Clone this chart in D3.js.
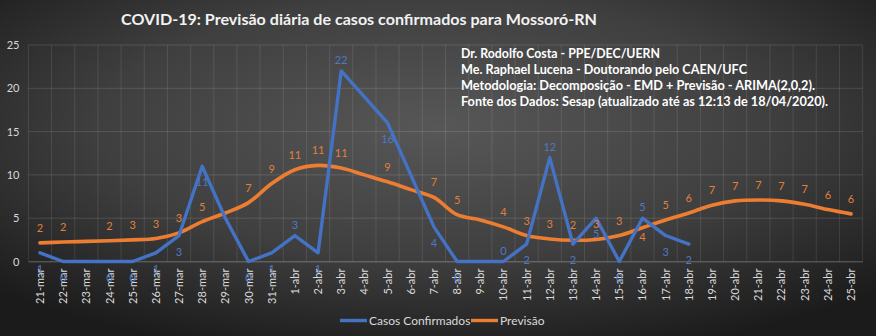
<!DOCTYPE html>
<html>
<head>
<meta charset="utf-8">
<script src="https://cdn.jsdelivr.net/npm/d3@7"></script>
<style>
html,body{margin:0;padding:0;background:#2a2a2a;}
svg{display:block;}
</style>
</head>
<body>
<svg id="chart" width="876" height="336"></svg>
<script>
// ---- data ----
const categories = ["21-mar","22-mar","23-mar","24-mar","25-mar","26-mar","27-mar","28-mar","29-mar","30-mar","31-mar",
  "1-abr","2-abr","3-abr","4-abr","5-abr","6-abr","7-abr","8-abr","9-abr","10-abr","11-abr","12-abr","13-abr","14-abr",
  "15-abr","16-abr","17-abr","18-abr","19-abr","20-abr","21-abr","22-abr","23-abr","24-abr","25-abr"];
const casosConfirmados = [1,0,0,0,0,1,3,11,5,0,1,3,1,22,19,16,10,4,0,0,0,2,12,2,5,0,5,3,2];
const previsao = [2.15,2.25,2.32,2.4,2.5,2.65,3.3,4.6,5.6,6.8,9.0,10.6,11.1,10.8,10.0,9.2,8.3,7.4,5.4,4.8,4.0,3.0,2.6,2.45,2.55,3.0,3.9,4.8,5.6,6.5,7.0,7.1,7.0,6.6,6.0,5.5];
const yTicks = [0,5,10,15,20,25];
const seriesNames = ["Casos Confirmados","Previsão"];
const titleText = "COVID-19: Previsão diária de casos confirmados para Mossoró-RN";
const noteLines = ["Dr. Rodolfo Costa - PPE/DEC/UERN",
  "Me. Raphael Lucena - Doutorando pelo CAEN/UFC",
  "Metodologia: Decomposição - EMD + Previsão - ARIMA(2,0,2).",
  "Fonte dos Dados: Sesap (atualizado até as 12:13 de 18/04/2020)."];
// label visibility / placement (as in the original)
const blueHidden = ["23-mar","29-mar","4-abr","6-abr","9-abr"];
const blueAbove = ["1-abr","3-abr","10-abr","12-abr","16-abr"];
const orangeHidden = ["23-mar","29-mar","4-abr","6-abr","9-abr"];
const orangeBelow = ["16-abr"];

// ---- drawing ----
const W = 876, H = 336;
const svg = d3.select("#chart");
const BLUE = "#4472C4", ORANGE = "#ED7D31";
const FONT = "Lato, 'Open Sans', 'Liberation Sans', sans-serif";

const defs = svg.append("defs");
const rg = defs.append("radialGradient").attr("id","bg")
  .attr("cx","50%").attr("cy","38%").attr("r","70%")
  .attr("gradientUnits","objectBoundingBox");
rg.append("stop").attr("offset","0%").attr("stop-color","#575757");
rg.append("stop").attr("offset","55%").attr("stop-color","#3f3f3f");
rg.append("stop").attr("offset","100%").attr("stop-color","#1b1b1b");
svg.append("rect").attr("width",W).attr("height",H).attr("fill","url(#bg)");

const x = d3.scaleBand().domain(categories).range([28.4, 862.6]).paddingInner(0).paddingOuter(0);
const cx = c => x(c) + x.bandwidth()/2;
const y = d3.scaleLinear().domain([0,25]).range([261.5, 45]);

// gridlines
const grid = svg.append("g");
grid.selectAll("line.h").data(yTicks).join("line")
  .attr("x1", 28.4).attr("x2", 862.6)
  .attr("y1", d => y(d)).attr("y2", d => y(d))
  .attr("stroke", "rgba(255,255,255,0.13)").attr("stroke-width", 1);
const bounds = categories.map(c => x(c)).concat([x(categories[categories.length-1]) + x.bandwidth()]);
grid.selectAll("line.v").data(bounds).join("line")
  .attr("x1", d => d).attr("x2", d => d)
  .attr("y1", y(25)).attr("y2", y(0))
  .attr("stroke", "rgba(255,255,255,0.10)").attr("stroke-width", 1);

// y axis
const yAxis = svg.append("g").attr("transform","translate(28.4,0)")
  .call(d3.axisLeft(y).tickValues(yTicks).tickSize(0).tickPadding(9));
yAxis.select(".domain").remove();
yAxis.selectAll("text").attr("fill","#d9d9d9").style("font-family",FONT).style("font-size","11px");

// x axis
const xAxis = svg.append("g").attr("transform",`translate(0,${y(0)})`)
  .call(d3.axisBottom(x).tickSize(0).tickPadding(0));
xAxis.select(".domain").attr("stroke","rgba(255,255,255,0.18)");
xAxis.selectAll("text")
  .attr("fill","#d9d9d9").style("font-family",FONT).style("font-size","11px")
  .attr("text-anchor","end")
  .attr("transform","translate(4,7) rotate(-90)")
  .attr("dy","0").attr("y",0).attr("x",0);

// lines
const blueData = casosConfirmados.map((v,i)=>({c:categories[i], v}));
const orangeData = previsao.map((v,i)=>({c:categories[i], v}));

svg.append("path").datum(orangeData)
  .attr("fill","none").attr("stroke",ORANGE).attr("stroke-width",3.6)
  .attr("stroke-linejoin","round").attr("stroke-linecap","round")
  .attr("d", d3.line().x(d=>cx(d.c)).y(d=>y(d.v)).curve(d3.curveCatmullRom.alpha(0.5)));

svg.append("path").datum(blueData)
  .attr("fill","none").attr("stroke",BLUE).attr("stroke-width",3.4)
  .attr("stroke-linejoin","round").attr("stroke-linecap","round")
  .attr("d", d3.line().x(d=>cx(d.c)).y(d=>y(d.v)));

// data labels
svg.append("g").selectAll("text").data(orangeData.filter(d=>!orangeHidden.includes(d.c))).join("text")
  .attr("x", d=>cx(d.c))
  .attr("y", d=> orangeBelow.includes(d.c) ? y(d.v)+13 : y(d.v)-11)
  .attr("text-anchor","middle")
  .attr("fill","#e0803d").style("font-family",FONT).style("font-size","11px")
  .text(d=>Math.round(d.v));

svg.append("g").selectAll("text").data(blueData.filter(d=>!blueHidden.includes(d.c))).join("text")
  .attr("x", d=>cx(d.c))
  .attr("y", d=> blueAbove.includes(d.c) ? y(d.v)-7 : y(d.v)+20)
  .attr("text-anchor","middle")
  .attr("fill","#4f78c4").style("font-family",FONT).style("font-size","11px")
  .text(d=>d.v);

// title
svg.append("text").attr("x",121).attr("y",25)
  .attr("fill","#f2f2f2").style("font-family",FONT).style("font-weight","bold").style("font-size","16px")
  .attr("textLength",476).attr("lengthAdjust","spacingAndGlyphs")
  .text(titleText);

// note
const noteWidths = [199,286,354,367];
svg.append("g").selectAll("text").data(noteLines).join("text")
  .attr("x",461).attr("y",(d,i)=>58+i*16)
  .attr("fill","#ffffff").style("font-family",FONT).style("font-weight","bold").style("font-size","12.5px")
  .attr("textLength",(d,i)=>noteWidths[i]).attr("lengthAdjust","spacingAndGlyphs")
  .text(d=>d);

// legend
const leg = svg.append("g");
const legItems = [{name:seriesNames[0], color:BLUE, x:340},{name:seriesNames[1], color:ORANGE, x:471}];
leg.selectAll("line").data(legItems).join("line")
  .attr("x1",d=>d.x).attr("x2",d=>d.x+27).attr("y1",320.5).attr("y2",320.5)
  .attr("stroke",d=>d.color).attr("stroke-width",3.4);
leg.selectAll("text").data(legItems).join("text")
  .attr("x",d=>d.x+29).attr("y",325)
  .attr("fill","#d9d9d9").style("font-family",FONT).style("font-size","12px")
  .text(d=>d.name);
</script>
</body>
</html>
